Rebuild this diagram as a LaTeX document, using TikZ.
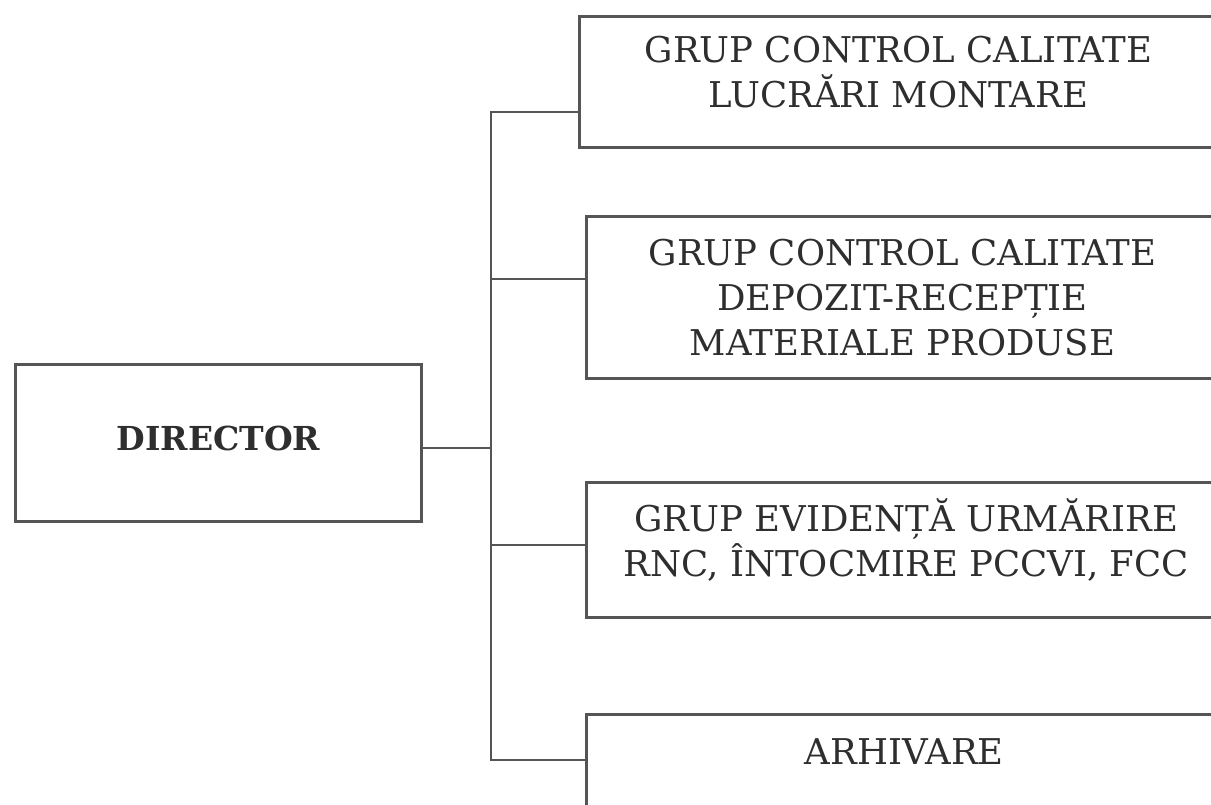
\documentclass[tikz,border=0pt]{standalone}
\usepackage{fontspec}
\setmainfont{DejaVu Serif}
\definecolor{linec}{HTML}{555555}
\definecolor{textc}{HTML}{2E2E2E}
\tikzset{
  box/.style={draw=linec, line width=2.8pt, inner sep=0pt, anchor=north west,
    align=center, text=textc, font=\fontsize{35.5}{45}\selectfont},
  conn/.style={draw=linec, line width=2.8pt, line cap=rect}
}
\begin{document}
\begin{tikzpicture}[x=1pt,y=-1pt]
\useasboundingbox (0,0) rectangle (1211,804);
\clip (0,0) rectangle (1211,804);
\fill[white] (0,0) rectangle (1211,804);
\node[box, minimum width=406, minimum height=157, font=\fontsize{33}{40}\selectfont\bfseries, text depth=10pt] (dir) at (14,363) {DIRECTOR};
\node[box, minimum width=638, minimum height=131, text depth=20pt] (b1) at (578,15) {GRUP CONTROL CALITATE\\LUCRĂRI MONTARE};
\node[box, minimum width=632, minimum height=162] (b2) at (585,215) {GRUP CONTROL CALITATE\\DEPOZIT-RECEPȚIE\\MATERIALE PRODUSE};
\node[box, minimum width=640, minimum height=135, text depth=24pt] (b3) at (585,481) {GRUP EVIDENȚĂ URMĂRIRE\\RNC, ÎNTOCMIRE PCCVI, FCC};
\node[box, minimum width=636, text height=50pt, text depth=130pt] (b4) at (585,713) {ARHIVARE};
\coordinate (j) at (491,448);
\coordinate (t1) at (491,112);
\coordinate (t2) at (491,279);
\coordinate (t3) at (491,545);
\coordinate (t4) at (491,760);
\draw[conn] (dir.east |- j) -- (j);
\draw[conn] (t1) -- (t4);
\draw[conn] (t1) -- (t1 -| b1.west);
\draw[conn] (t2) -- (t2 -| b2.west);
\draw[conn] (t3) -- (t3 -| b3.west);
\draw[conn] (t4) -- (t4 -| b4.west);
\end{tikzpicture}
\end{document}
